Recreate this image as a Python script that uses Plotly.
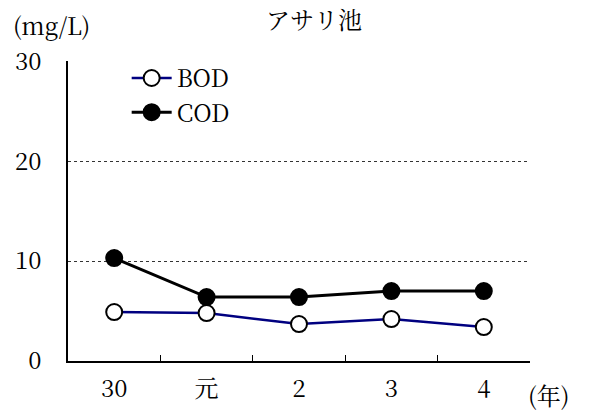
import plotly.graph_objects as go

categories = ["30", "元", "2", "3", "4"]
bod = [4.9, 4.8, 3.7, 4.2, 3.4]
cod = [10.3, 6.4, 6.4, 7.0, 7.0]
y_ticks = [0, 10, 20, 30]

FONT = "Noto Serif CJK JP, Liberation Serif, serif"
INK = "#000000"


def f(size):
    return dict(family=FONT, size=size, color=INK)


fig = go.Figure()
fig.add_trace(go.Scatter(
    x=categories, y=bod, name="BOD", mode="lines+markers",
    line=dict(color="#000080", width=2.5),
    marker=dict(size=16, color="white", line=dict(color="black", width=2)),
))
fig.add_trace(go.Scatter(
    x=categories, y=cod, name="COD", mode="lines+markers",
    line=dict(color="black", width=3),
    marker=dict(size=16, color="black", line=dict(color="black", width=2)),
))

fig.update_layout(
    width=586, height=410,
    margin=dict(l=60, r=64, t=53, b=57, autoexpand=False),
    paper_bgcolor="white", plot_bgcolor="white",
    showlegend=True,
    legend=dict(x=0.127, y=1.017, xanchor="left", yanchor="top", itemwidth=40,
                bgcolor="rgba(0,0,0,0)", tracegroupgap=0, font=f(24)),
    title=dict(text="アサリ池", x=0.522, xanchor="center", y=0.97, yanchor="middle",
               font=f(24)),
)
fig.update_xaxes(
    type="category", range=[-0.5, 4.5], tickson="boundaries",
    ticks="inside", ticklen=6, tickcolor="black", tickfont=f(24),
    showline=True, linecolor="black", linewidth=1.5, automargin=False,
    showgrid=False, zeroline=False, ticklabelstandoff=5,
)
fig.update_yaxes(
    range=[0, 30.02], tickvals=y_ticks, ticks="", showline=True, tickfont=f(24),
    linecolor="black", linewidth=1.5, automargin=False,
    showgrid=True, gridcolor="#333", griddash="dot", gridwidth=1,
    zeroline=False, ticklabelstandoff=20,
)
fig.add_annotation(text="(mg/L)", xref="paper", yref="paper", x=0, y=1.0,
                   xshift=-17, yshift=37, showarrow=False, xanchor="center",
                   yanchor="middle", font=f(24))
fig.add_annotation(text="(年)", xref="paper", yref="paper", x=1.0, y=0,
                   xshift=18, yshift=-33, showarrow=False, xanchor="center",
                   yanchor="middle", font=f(24))

fig.write_html("out.html")
